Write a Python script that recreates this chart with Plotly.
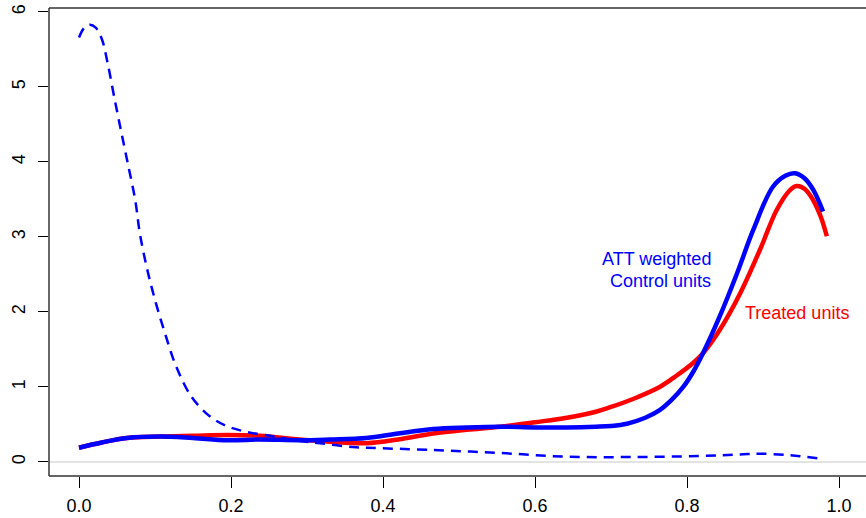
import plotly.graph_objects as go

# Treated units density (red)
treated_x = [0, 0.03, 0.063, 0.107, 0.15, 0.195, 0.238, 0.29, 0.33, 0.378, 0.42, 0.466, 0.51,
             0.554, 0.6, 0.642, 0.68, 0.699, 0.729, 0.764, 0.786, 0.808, 0.821, 0.843, 0.870,
             0.896, 0.918, 0.935, 0.944, 0.955, 0.966, 0.976, 0.984]
treated_y = [0.19, 0.26, 0.32, 0.34, 0.35, 0.36, 0.35, 0.30, 0.27, 0.25, 0.30, 0.38, 0.43,
             0.47, 0.53, 0.59, 0.67, 0.73, 0.84, 1.00, 1.15, 1.32, 1.45, 1.76, 2.25,
             2.83, 3.36, 3.62, 3.68, 3.64, 3.49, 3.27, 3.01]

# ATT weighted control units density (blue solid)
weighted_x = [0, 0.03, 0.063, 0.107, 0.15, 0.195, 0.238, 0.29, 0.33, 0.378, 0.42, 0.466, 0.51,
              0.554, 0.6, 0.642, 0.68, 0.70, 0.721, 0.745, 0.764, 0.78, 0.795, 0.808, 0.821,
              0.843, 0.866, 0.887, 0.913, 0.93, 0.942, 0.955, 0.966, 0.979]
weighted_y = [0.19, 0.26, 0.32, 0.34, 0.32, 0.29, 0.30, 0.29, 0.30, 0.32, 0.38, 0.44, 0.46,
              0.47, 0.46, 0.46, 0.47, 0.48, 0.51, 0.59, 0.69, 0.83, 1.00, 1.20, 1.45,
              1.94, 2.52, 3.09, 3.67, 3.82, 3.85, 3.78, 3.63, 3.34]

# Unweighted control units density (blue dashed)
control_x = [0, 0.007, 0.0145, 0.022, 0.030, 0.038, 0.047, 0.056, 0.065, 0.074, 0.080, 0.089,
             0.1, 0.113, 0.128, 0.148, 0.172, 0.194, 0.221, 0.256, 0.291, 0.317, 0.36, 0.378,
             0.466, 0.554, 0.642, 0.729, 0.817, 0.87, 0.896, 0.935, 0.975]
control_y = [5.66, 5.79, 5.83, 5.79, 5.64, 5.30, 4.83, 4.38, 3.94, 3.49, 3.05, 2.60,
             2.16, 1.72, 1.27, 0.87, 0.61, 0.48, 0.40, 0.34, 0.28, 0.25, 0.20, 0.19,
             0.16, 0.12, 0.07, 0.066, 0.08, 0.10, 0.11, 0.09, 0.045]

x_ticks = [0, 0.2, 0.4, 0.6, 0.8, 1.0]
x_labels = ["0.0", "0.2", "0.4", "0.6", "0.8", "1.0"]
y_ticks = [0, 1, 2, 3, 4, 5, 6]
y_labels = ["0", "1", "2", "3", "4", "5", "6"]

FONT = "Liberation Sans, Arial, Helvetica, sans-serif"

fig = go.Figure()
fig.add_trace(go.Scatter(x=treated_x, y=treated_y, mode="lines",
                         line=dict(color="#FF0000", width=4.5, shape="spline", smoothing=1.0)))
fig.add_trace(go.Scatter(x=weighted_x, y=weighted_y, mode="lines",
                         line=dict(color="#0000FF", width=4.5, shape="spline", smoothing=1.0)))
fig.add_trace(go.Scatter(x=control_x, y=control_y, mode="lines",
                         line=dict(color="#0000FF", width=2.5, dash="10px,7px",
                                   shape="spline", smoothing=1.0)))

XR = [-0.0395, 1.0355]
YR = [-0.187, 6.053]

shapes = [
    dict(type="line", xref="paper", yref="y", x0=0, x1=1, y0=0, y1=0,
         line=dict(color="#C8C8C8", width=1.2), layer="below"),
    dict(type="line", xref="paper", yref="paper", x0=0, x1=0, y0=0, y1=1,
         line=dict(color="#333333", width=1.5)),
    dict(type="line", xref="paper", yref="paper", x0=0, x1=1, y0=1, y1=1,
         line=dict(color="#333333", width=1.5)),
    dict(type="line", xref="paper", yref="paper", x0=0, x1=1, y0=0, y1=0,
         line=dict(color="#333333", width=1.5)),
]

annotations = [
    dict(x=0.834, y=2.71, text="ATT weighted", showarrow=False, xanchor="right", yanchor="middle",
         font=dict(family=FONT, size=18, color="#0000FF")),
    dict(x=0.834, y=2.41, text="Control units", showarrow=False, xanchor="right", yanchor="middle",
         font=dict(family=FONT, size=18, color="#0000FF")),
    dict(x=0.874, y=1.99, text="Treated units", showarrow=False, xanchor="left", yanchor="middle",
         font=dict(family=FONT, size=18, color="#FF0000")),
]

fig.update_layout(
    width=866, height=518,
    margin=dict(l=49, r=0, t=8, b=42, autoexpand=False),
    paper_bgcolor="white", plot_bgcolor="white",
    showlegend=False,
    font=dict(family=FONT, size=18, color="#000000"),
    shapes=shapes, annotations=annotations,
    xaxis=dict(range=XR, tickvals=x_ticks, ticktext=x_labels, ticks="outside", ticklen=11,
               tickcolor="#000000", tickwidth=1, showgrid=False, zeroline=False, showline=False,
               automargin=False, ticklabelstandoff=2, tickfont=dict(size=18)),
    yaxis=dict(range=YR, tickvals=y_ticks, ticktext=y_labels, ticks="outside", ticklen=10,
               tickcolor="#000000", tickwidth=1, showgrid=False, zeroline=False, showline=False,
               automargin=False, tickangle=-90, ticklabelstandoff=6, tickfont=dict(size=18)),
)

fig.write_html("out.html", config={"displayModeBar": False},
               post_script="document.body.style.margin='0';document.body.style.overflow='hidden';")
